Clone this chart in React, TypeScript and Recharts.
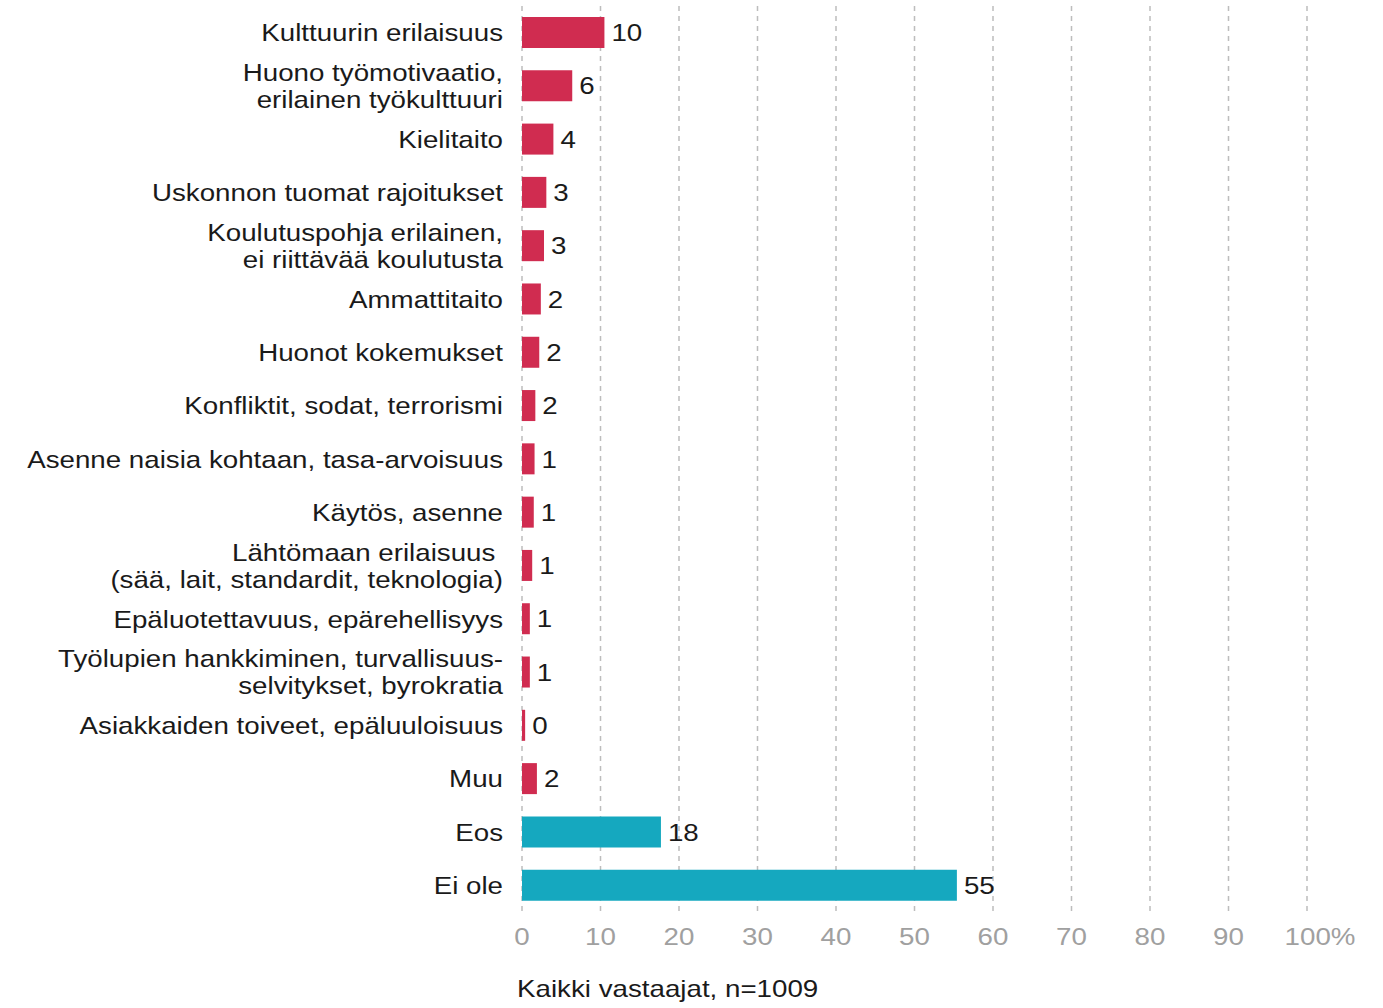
import React from 'react';
import {
  BarChart,
  Bar,
  XAxis,
  YAxis,
  CartesianGrid,
  Cell,
  LabelList,
} from 'recharts';

const categories = [
  'Kulttuurin erilaisuus',
  'Huono työmotivaatio,\nerilainen työkulttuuri',
  'Kielitaito',
  'Uskonnon tuomat rajoitukset',
  'Koulutuspohja erilainen,\nei riittävää koulutusta',
  'Ammattitaito',
  'Huonot kokemukset',
  'Konfliktit, sodat, terrorismi',
  'Asenne naisia kohtaan, tasa-arvoisuus',
  'Käytös, asenne',
  'Lähtömaan erilaisuus \n(sää, lait, standardit, teknologia)',
  'Epäluotettavuus, epärehellisyys',
  'Työlupien hankkiminen, turvallisuus-\nselvitykset, byrokratia',
  'Asiakkaiden toiveet, epäluuloisuus',
  'Muu',
  'Eos',
  'Ei ole',
];

// bar lengths as measured, and the printed (rounded) labels
const values = [10.5, 6.4, 4.0, 3.1, 2.8, 2.4, 2.2, 1.7, 1.6, 1.5, 1.3, 1.0, 1.0, 0.4, 1.9, 17.7, 55.4];
const valueLabels = ['10', '6', '4', '3', '3', '2', '2', '2', '1', '1', '1', '1', '1', '0', '2', '18', '55'];

const noProblemCategories = ['Eos', 'Ei ole'];

const xTicks = [0, 10, 20, 30, 40, 50, 60, 70, 80, 90, 100];

const RED = '#d02c50';
const TEAL = '#15a8bf';
const FONT = '"Liberation Sans", Arial, sans-serif';
const SX = 1.155; // the reference text is stretched horizontally

const data = categories.map((name, i) => ({ name, value: values[i], label: valueLabels[i] }));

function CategoryTick(props: any) {
  const { x, y, payload } = props;
  const lines: string[] = String(payload.value).split('\n');
  const lh = 27;
  const start = -((lines.length - 1) * lh) / 2;
  return (
    <g transform={`translate(${x},${y}) scale(${SX},1)`}>
      <text x={0} y={0} textAnchor="end" fill="#1a1a1a" fontSize={24} fontFamily={FONT}>
        {lines.map((l, i) => (
          <tspan key={i} x={0} y={start + i * lh} dy="0.36em">
            {l}
          </tspan>
        ))}
      </text>
    </g>
  );
}

function ValueTick(props: any) {
  const { x, y, payload } = props;
  const last = payload.value === 100;
  return (
    <g transform={`translate(${last ? x + 13 : x},${y}) scale(${SX},1)`}>
      <text x={0} y={0} dy="0.75em" textAnchor="middle" fill="#a0a0a0" fontSize={24} fontFamily={FONT}>
        {last ? '100%' : payload.value}
      </text>
    </g>
  );
}

function BarValue(props: any) {
  const { x, y, width, height, value } = props;
  const tx = Number(x) + Number(width) + 7;
  const ty = Number(y) + Number(height) / 2;
  return (
    <g transform={`translate(${tx},${ty}) scale(${SX},1)`}>
      <text x={0} y={0} dy="0.36em" textAnchor="start" fill="#1a1a1a" fontSize={24} fontFamily={FONT}>
        {value}
      </text>
    </g>
  );
}

export default function App() {
  return (
    <div style={{ position: 'absolute', left: 0, top: 0, width: 1383, height: 1008, background: '#fff' }}>
      <BarChart
        width={1383}
        height={1008}
        data={data}
        layout="vertical"
        margin={{ top: 6, right: 76, left: 0, bottom: 66 }}
        barCategoryGap={0}
      >
        <CartesianGrid
          horizontal={false}
          stroke="#bdbdbd"
          strokeDasharray="5 5"
          strokeWidth={1.5}
        />
        <XAxis
          type="number"
          domain={[0, 100]}
          ticks={xTicks}
          axisLine={false}
          tickLine={false}
          tick={<ValueTick />}
          tickMargin={9}
          height={30}
          interval={0}
        />
        <YAxis
          type="category"
          dataKey="name"
          width={522}
          axisLine={false}
          tickLine={false}
          tick={<CategoryTick />}
          tickMargin={13}
          interval={0}
        />
        <Bar dataKey="value" barSize={31} isAnimationActive={false}>
          {data.map((d, i) => (
            <Cell key={`cell-${i}`} fill={noProblemCategories.includes(d.name) ? TEAL : RED} />
          ))}
          <LabelList dataKey="label" content={<BarValue />} />
        </Bar>
      </BarChart>
      <div
        style={{
          position: 'absolute',
          left: 517,
          top: 975,
          fontFamily: FONT,
          fontSize: 24,
          color: '#1a1a1a',
          whiteSpace: 'nowrap',
          transform: `scaleX(${SX})`,
          transformOrigin: 'left top',
        }}
      >
        Kaikki vastaajat, n=1009
      </div>
    </div>
  );
}
